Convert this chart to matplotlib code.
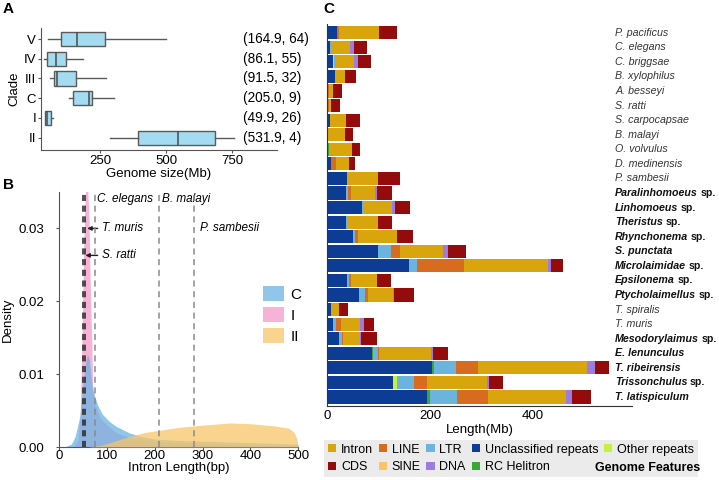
"""Genome size boxplot, intron length density and genome feature bars."""

import matplotlib
matplotlib.use('Agg')
import matplotlib.pyplot as plt
from matplotlib.patches import Patch

plt.rcParams['font.family'] = ['Liberation Sans', 'DejaVu Sans']

# ---- Panel A: genome size per clade (bottom to top) ----
clades = ['II', 'I', 'C', 'III', 'IV', 'V']
size_whislo = [288, 39, 133, 58, 37, 52]
size_q1 = [391, 39, 145, 73, 48, 99]
size_med = [544, 48, 206, 86, 81, 161]
size_q3 = [684, 62, 219, 156, 118, 266]
size_whishi = [756, 72, 303, 273, 186, 498]
clade_notes = ['(531.9, 4)', '(49.9, 26)', '(205.0, 9)',
               '(91.5, 32)', '(86.1, 55)', '(164.9, 64)']

# ---- Panel B: intron length densities ----
c_x = [5, 15, 25, 33, 43, 50, 55, 59, 63, 66, 70, 80, 90, 105, 120, 148,
       175, 200, 250, 300, 350, 400, 450, 500]
c_y = [0, 0.0001, 0.0004, 0.0014, 0.0042, 0.0088, 0.0115, 0.0127, 0.0120,
       0.0100, 0.0078, 0.0058, 0.0045, 0.0035, 0.0028, 0.0019, 0.0014,
       0.0011, 0.0009, 0.0008, 0.0007, 0.0006, 0.0005, 0.0004]
i_x = [30, 40, 44, 47, 50, 53, 56, 59, 62, 64, 66, 68, 70, 75, 85, 100,
       120, 148, 200, 300, 400, 500]
i_y = [0, 0.001, 0.005, 0.013, 0.024, 0.032, 0.037, 0.036, 0.032, 0.025,
       0.019, 0.0145, 0.0085, 0.0058, 0.0040, 0.0030, 0.0019, 0.0013,
       0.0008, 0.0004, 0.0002, 0.0001]
ii_x = [60, 86, 106, 130, 155, 180, 211, 250, 300, 358, 400, 450, 480,
        492, 498, 500]
ii_y = [0, 0.0002, 0.0006, 0.0011, 0.0016, 0.0020, 0.0023, 0.0027, 0.0030,
        0.0033, 0.0032, 0.0029, 0.0026, 0.0020, 0.0010, 0]
ref_species = ['T. muris', 'S. ratti', 'C. elegans', 'B. malayi', 'P. sambesii']
ref_len = [50.5, 54.5, 74, 209, 283]

# ---- Panel C: genome features (Mb), top to bottom ----
species = ['P. pacificus', 'C. elegans', 'C. briggsae', 'B. xylophilus',
           'A. besseyi', 'S. ratti', 'S. carpocapsae', 'B. malayi',
           'O. volvulus', 'D. medinensis', 'P. sambesii',
           'Paralinhomoeus sp.', 'Linhomoeus sp.', 'Theristus sp.',
           'Rhynchonema sp.', 'S. punctata', 'Microlaimidae sp.',
           'Epsilonema sp.', 'Ptycholaimellus sp.', 'T. spiralis', 'T. muris',
           'Mesodorylaimus sp.', 'E. lenunculus', 'T. ribeirensis',
           'Trissonchulus sp.', 'T. latispiculum']
new_genomes = ['Paralinhomoeus sp.', 'Linhomoeus sp.', 'Theristus sp.',
               'Rhynchonema sp.', 'S. punctata', 'Microlaimidae sp.',
               'Epsilonema sp.', 'Ptycholaimellus sp.', 'Mesodorylaimus sp.',
               'E. lenunculus', 'T. ribeirensis', 'Trissonchulus sp.',
               'T. latispiculum']
unclassified = [18.2, 5.2, 11.7, 15.6, 0, 0, 5.2, 1.3, 1.5, 6.5, 39, 36.3,
                68.2, 37, 50.6, 98, 159.7, 39, 62.3, 7.1, 10.4, 22.1, 86.3,
                203.8, 128.5, 194.7]
other_rep = [0, 0, 1.5, 0, 0, 0, 0, 0, 0, 0, 0, 0, 0, 0, 0, 0, 0, 0, 0, 0,
             0, 0, 0, 0, 7.1, 0]
rc_helitron = [0, 0, 0, 0, 1.2, 1.2, 0, 0, 1.0, 0, 0, 0, 0, 0, 0, 0, 0, 0,
               0, 0, 0, 0, 3.2, 3.2, 0, 5.2]
ltr = [0, 1.3, 1.0, 0, 0, 0, 0, 0, 0, 0, 1.3, 3.9, 3.9, 2.0, 2.6, 25.3,
       14.3, 2.6, 11.7, 0, 5.8, 5.8, 8.4, 43.5, 33.7, 51.9]
sine = [0] * 26
line = [5.2, 0, 0, 0, 2.0, 2.0, 0, 0, 0, 9.7, 0, 5.2, 0, 0, 7.1, 18.2,
        92.2, 3.9, 4.5, 0, 9.7, 1.9, 1.9, 42.8, 24.0, 61.7]
intron = [77.9, 37.6, 37.6, 18.8, 7.1, 3.9, 31.2, 33.7, 46, 26, 58.4, 47.4,
          54.5, 60.4, 74.6, 84.4, 164.2, 50.6, 48.7, 16.2, 37.6, 33.7,
          101.3, 211.6, 116.8, 151.2]
dna = [0, 7.8, 8.4, 0, 0, 0, 0, 0, 0, 0, 0.8, 4.5, 4.5, 0, 0, 8.4, 5.2, 0,
       2.6, 0, 8.4, 2.6, 3.9, 15.6, 5.2, 12.3]
cds = [35, 25.3, 25.3, 21.4, 18.2, 18.2, 27.9, 14.9, 15.6, 12.3, 41.5, 29.2,
       30.5, 27.3, 32.5, 35.7, 22.7, 27.3, 38.9, 17.5, 19.5, 31.2, 29.9,
       28.6, 26.6, 35.7]

feature_colors = {
    'Unclassified repeats': '#0C3C94', 'Other repeats': '#C6F03C',
    'RC Helitron': '#35A835', 'LTR': '#6BB4DE', 'SINE': '#FFC266',
    'LINE': '#D86C1E', 'Intron': '#D9A50C', 'DNA': '#9C7CE0',
    'CDS': '#930B0B',
}
stack = [('Unclassified repeats', unclassified), ('Other repeats', other_rep),
         ('RC Helitron', rc_helitron), ('LTR', ltr), ('SINE', sine),
         ('LINE', line), ('Intron', intron), ('DNA', dna), ('CDS', cds)]

W, H = 719, 480
fig = plt.figure(figsize=(W / 100, H / 100), dpi=100)


def frac(x0, y0, x1, y1):
    """Pixel box (top-left origin) to figure fraction rect."""
    return [x0 / W, 1 - y1 / H, (x1 - x0) / W, (y1 - y0) / H]


spine_col = '#555555'
tick_fs = 9.5

# ---------------- A ----------------
axa = fig.add_axes(frac(41, 28, 277, 150))
stats = [dict(whislo=a, q1=b, med=c, q3=d, whishi=e, fliers=[])
         for a, b, c, d, e in zip(size_whislo, size_q1, size_med, size_q3, size_whishi)]
axa.bxp(stats, positions=range(1, len(clades) + 1), orientation='horizontal',
        widths=0.72, patch_artist=True, showfliers=False, showcaps=False,
        boxprops=dict(facecolor='#A3DCF0', edgecolor='#5a5a5a', linewidth=1),
        medianprops=dict(color='#4a4a4a', linewidth=1.1),
        whiskerprops=dict(color='#5a5a5a', linewidth=1))
axa.set_xlim(25, 920)
axa.set_ylim(0.375, 6.56)
axa.set_xticks([250, 500, 750])
axa.set_yticks(range(1, len(clades) + 1))
axa.set_yticklabels(clades)
axa.tick_params(labelsize=tick_fs, length=2, color=spine_col, pad=1.5)
for i, note in enumerate(clade_notes):
    axa.text(790, i + 1, note, va='center', ha='left', fontsize=9.8)
axa.set_xlabel('Genome size(Mb)', fontsize=9.5, labelpad=0.5)
axa.set_ylabel('Clade', fontsize=9.5, labelpad=2)
for s in ['top', 'right']:
    axa.spines[s].set_visible(False)
for s in ['left', 'bottom']:
    axa.spines[s].set_color(spine_col)

# ---------------- B ----------------
axb = fig.add_axes(frac(59.3, 192, 298, 447))
col_c, col_i, col_ii = '#6AB4E2', '#F49AC8', '#F8C66A'
axb.fill_between(i_x, i_y, color=col_i, alpha=0.75, lw=0, zorder=1)
axb.fill_between(c_x, c_y, color=col_c, alpha=0.75, lw=0, zorder=2)
axb.fill_between(ii_x, ii_y, color=col_ii, alpha=0.75, lw=0, zorder=3)
for name, xv in zip(ref_species, ref_len):
    col = '#222222' if name in ('T. muris', 'S. ratti') else '#8a8a8a'
    axb.axvline(xv, color=col, ls=(0, (4, 3)), lw=1.1, zorder=4)
axb.text(80, 0.0341, 'C. elegans', style='italic', fontsize=8.5, va='center')
axb.text(216, 0.0341, 'B. malayi', style='italic', fontsize=8.5, va='center')
axb.text(295, 0.0300, 'P. sambesii', style='italic', fontsize=8.5, va='center')
axb.annotate('T. muris', xy=(ref_len[0] + 8, 0.0300), xytext=(89, 0.0300),
             style='italic', fontsize=8.5, va='center',
             arrowprops=dict(arrowstyle='-|>', color='#222222', lw=1,
                             mutation_scale=6, shrinkA=1, shrinkB=0))
axb.annotate('S. ratti', xy=(ref_len[1], 0.0263), xytext=(89, 0.0263),
             style='italic', fontsize=8.5, va='center',
             arrowprops=dict(arrowstyle='-|>', color='#222222', lw=1,
                             mutation_scale=6, shrinkA=1, shrinkB=0))
axb.set_xlim(0, 500)
axb.set_ylim(0, 0.035)
axb.set_xticks([0, 100, 200, 300, 400, 500])
axb.set_yticks([0, 0.01, 0.02, 0.03])
axb.set_yticklabels(['0.00', '0.01', '0.02', '0.03'])
axb.tick_params(labelsize=tick_fs, length=2, color=spine_col)
axb.tick_params(axis='x', pad=0.5)
axb.tick_params(axis='y', pad=9)
axb.set_xlabel('Intron Length(bp)', fontsize=9.5, labelpad=0)
axb.set_ylabel('Density', fontsize=9.5, labelpad=3)
for s in ['top', 'right']:
    axb.spines[s].set_visible(False)
for s in ['left', 'bottom']:
    axb.spines[s].set_color(spine_col)
hb = [Patch(facecolor=c, alpha=0.75, lw=0) for c in (col_c, col_i, col_ii)]
axb.legend(hb, ['C', 'I', 'II'], loc='upper left', frameon=False,
           bbox_to_anchor=(263 / W, 1 - 286 / H), bbox_transform=fig.transFigure,
           borderaxespad=0, borderpad=0, fontsize=11, handlelength=1.35,
           handleheight=1.15, handletextpad=0.45, labelspacing=0.35)

# ---------------- C ----------------
axc = fig.add_axes(frac(327.3, 24, 632, 406))
n = len(species)
ypos = [n - 1 - k for k in range(n)]
left = [0.0] * n
for name, vals in stack:
    axc.barh(ypos, vals, left=left, height=0.9, color=feature_colors[name], lw=0)
    left = [a + b for a, b in zip(left, vals)]
axc.set_xlim(0, 593)
axc.set_ylim(-0.62, n - 0.4)
axc.set_xticks([0, 200, 400])
axc.set_yticks([])
axc.tick_params(labelsize=tick_fs, length=0, pad=3)
axc.set_xlabel('Length(Mb)', fontsize=9.5, labelpad=1)
for s in ['top', 'right']:
    axc.spines[s].set_visible(False)
axc.spines['left'].set_color('#333333')
axc.spines['bottom'].set_color('#333333')
lab_fs = 7.7
for name, yv in zip(species, ypos):
    if name in new_genomes:
        if name.endswith(' sp.'):
            t = axc.text(560, yv, name[:-4], fontsize=lab_fs, style='italic',
                         weight='bold', va='center', color='#111111')
            axc.annotate('sp.', xy=(1, 0), xycoords=t, xytext=(1.8, 0),
                         textcoords='offset points', fontsize=lab_fs,
                         weight='bold', va='bottom', color='#111111')
        else:
            axc.text(560, yv, name, fontsize=lab_fs, style='italic',
                     weight='bold', va='center', color='#111111')
    else:
        axc.text(560, yv, name, fontsize=lab_fs, style='italic', va='center',
                 color='#333333')

order = ['Intron', 'CDS', 'LINE', 'SINE', 'LTR', 'DNA',
         'Unclassified repeats', 'RC Helitron', 'Other repeats']
hc = [Patch(facecolor=feature_colors[k], lw=0) for k in order]
leg = fig.legend(hc, order, ncol=5, loc='lower left',
                 bbox_to_anchor=(324 / W, 1 - 477 / H), frameon=True,
                 facecolor='#EBEBEB', edgecolor='none', fancybox=False,
                 framealpha=1, fontsize=9, handlelength=0.65, handleheight=0.65,
                 handletextpad=0.4, columnspacing=0.45, labelspacing=0.45,
                 borderpad=0.3, borderaxespad=0)
fig.text(700 / W, 1 - 468 / H, 'Genome Features', fontsize=9,
         weight='bold', ha='right', va='center', zorder=10)

fig.text(3 / W, 1 - 2 / H, 'A', fontsize=11, weight='bold', va='top')
fig.text(3 / W, 1 - 178 / H, 'B', fontsize=11, weight='bold', va='top')
fig.text(323 / W, 1 - 2 / H, 'C', fontsize=11, weight='bold', va='top')

fig.savefig('out.png', dpi=100)
